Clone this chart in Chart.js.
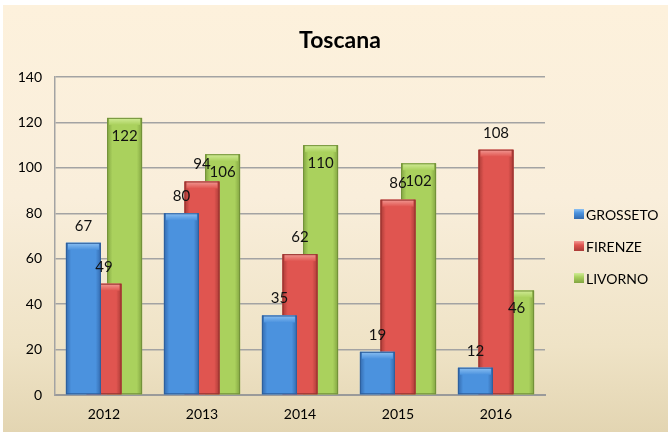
<!DOCTYPE html>
<html>
<head>
<meta charset="utf-8">
<script src="https://cdn.jsdelivr.net/npm/chart.js@4"></script>
<style>
body{margin:0;background:#fff}
#wrap{position:absolute;left:3px;top:5px;width:665px;height:427px;
background:linear-gradient(#fdf1dc 0%,#f9eedb 45%,#efe3c6 80%,#e3d5b2 100%)}
canvas{display:block}
</style>
</head>
<body>
<div id="wrap"><canvas id="chart" width="665" height="427"></canvas></div>
<script>
let years=["2012","2013","2014","2015","2016"]
let grosseto=[67,80,35,19,12]
let firenze=[49,94,62,86,108]
let livorno=[122,106,110,102,46]

let fontName="Lato, 'Open Sans', sans-serif"

// center colour, edge colour, top highlight
let shades=[
{mid:"#4b92de",edge:"#336aae",top:"#8cc0f2",line:"#2e5f9c"},
{mid:"#e05550",edge:"#aa3b36",top:"#f29a94",line:"#96332f"},
{mid:"#aad15d",edge:"#82a441",top:"#d2ec98",line:"#73913a"}
]

// bars get a shaded look right after each dataset is drawn
let barShade={
id:"barShade",
afterDatasetDraw(chart,args){
let c=chart.ctx
let s=shades[args.index]
args.meta.data.forEach(bar=>{
let l=bar.x-bar.width/2, w=bar.width, t=bar.y, h=bar.base-bar.y
let g=c.createLinearGradient(l,0,l+w,0)
g.addColorStop(0,s.edge)
g.addColorStop(0.15,s.mid)
g.addColorStop(0.85,s.mid)
g.addColorStop(1,s.edge)
c.save()
c.fillStyle=g
c.fillRect(l,t,w,h)
let tg=c.createLinearGradient(0,t,0,t+7)
tg.addColorStop(0,s.top)
tg.addColorStop(1,s.mid)
c.fillStyle=tg
c.fillRect(l+2,t,w-4,Math.min(7,h))
c.strokeStyle=s.line
c.lineWidth=1
c.strokeRect(l+0.5,t+0.5,w-1,h-1)
c.restore()
})
}
}

// value labels: blue and red above the bar, green inside the top
let valueLabels={
id:"valueLabels",
afterDatasetsDraw(chart){
let c=chart.ctx
c.save()
c.font="15px "+fontName
c.fillStyle="#111"
c.textAlign="center"
c.textBaseline="middle"
chart.data.datasets.forEach((ds,di)=>{
chart.getDatasetMeta(di).data.forEach((bar,i)=>{
let y=di==2?bar.y+18:bar.y-17
c.fillText(ds.data[i],bar.x,y)
})
})
c.restore()
}
}

// title and legend on the right
let extras={
id:"extras",
afterDraw(chart){
let c=chart.ctx
c.save()
c.fillStyle="#000"
c.textAlign="center"
c.textBaseline="middle"
c.font="bold 23px "+fontName
c.fillText("Toscana",337,36)
c.font="14px "+fontName
c.textAlign="left"
chart.data.datasets.forEach((ds,di)=>{
let y=209+di*32
let s=shades[di]
let g=c.createLinearGradient(0,y-5,0,y+5)
g.addColorStop(0,s.top)
g.addColorStop(0.4,s.mid)
g.addColorStop(1,s.edge)
c.fillStyle=g
c.fillRect(571,y-5,10,10)
c.fillStyle="#000"
c.fillText(ds.label,583,y+1)
})
c.restore()
}
}

let ctx=document.getElementById("chart").getContext("2d")

let chart=new Chart(ctx,{
type:"bar",
data:{
labels:years,
datasets:[
{label:"GROSSETO",data:grosseto,backgroundColor:shades[0].mid},
{label:"FIRENZE",data:firenze,backgroundColor:shades[1].mid},
{label:"LIVORNO",data:livorno,backgroundColor:shades[2].mid}
]
},
options:{
responsive:false,
animation:false,
categoryPercentage:0.63,
barPercentage:1.7,
layout:{padding:{top:72,right:123,left:0,bottom:0}},
plugins:{legend:{display:false},title:{display:false},tooltip:{enabled:false}},
scales:{
x:{
grid:{display:false,drawTicks:false},
border:{color:"#9a9a9a",width:2},
ticks:{color:"#000",font:{family:fontName,size:14},padding:11},
afterFit(s){s.height=37}
},
y:{
min:0,max:140,
ticks:{stepSize:20,color:"#000",font:{family:fontName,size:14},padding:13},
grid:{color:"#a3a3a3",lineWidth:1.5,drawTicks:false},
border:{color:"#a3a3a3",width:1.5},
afterFit(s){s.width=52}
}
}
},
plugins:[barShade,valueLabels,extras]
})
</script>
</body>
</html>
